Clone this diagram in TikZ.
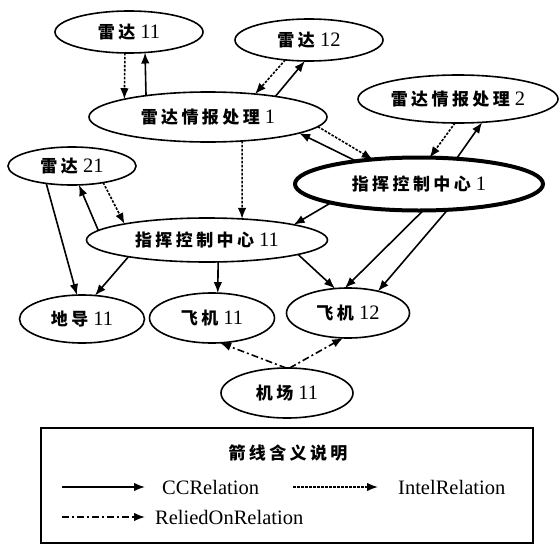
\documentclass[tikz,border=0pt]{standalone}
\usepackage{fontspec}
\setmainfont{Liberation Serif}
\newfontfamily\cjk[LetterSpace=20]{Noto Sans CJK SC}
\usetikzlibrary{shapes.geometric,arrows.meta}
\newcommand\zh[1]{{\cjk\bfseries\fontsize{17}{20}\selectfont #1}}
\tikzset{
  ent/.style={ellipse, draw, line width=1.6pt, inner sep=0pt, outer sep=0pt,
    font=\fontsize{20.5}{24}\selectfont},
  tip/.style={-{Latex[length=11pt,width=8.5pt]}},
  ccrel/.style={line width=1.6pt, tip},
  intel/.style={line width=1.6pt, dash pattern=on 2.5pt off 1.5pt, tip},
  relied/.style={line width=1.6pt, dash pattern=on 7pt off 3pt on 2pt off 3pt, tip},
  lbl/.style={anchor=west, inner sep=0pt, font=\fontsize{20.5}{24}\selectfont}
}
\begin{document}
\begin{tikzpicture}[x=1pt,y=-1pt]
\useasboundingbox (0,0) rectangle (559,546);
% nodes
\node[ent, minimum width=148pt, minimum height=42pt] (r11) at (129,32) {\zh{雷达} 11};
\node[ent, minimum width=148pt, minimum height=42pt] (r12) at (309,40) {\zh{雷达} 12};
\node[ent, minimum width=238pt, minimum height=50pt] (p1) at (208,117) {\zh{雷达情报处理} 1};
\node[ent, minimum width=200pt, minimum height=48pt] (p2) at (458,99) {\zh{雷达情报处理} 2};
\node[ent, minimum width=128pt, minimum height=38pt] (r21) at (72,166) {\zh{雷达} 21};
\node[ent, line width=4pt, minimum width=248pt, minimum height=53pt] (c1) at (419,184) {\zh{指挥控制中心} 1};
\node[ent, minimum width=241pt, minimum height=44pt] (c11) at (207,240) {\zh{指挥控制中心} 11};
\node[ent, minimum width=125pt, minimum height=48pt] (d11) at (82,319) {\zh{地导} 11};
\node[ent, minimum width=125pt, minimum height=50pt] (f11) at (212,318) {\zh{飞机} 11};
\node[ent, minimum width=123pt, minimum height=50pt] (f12) at (348,313) {\zh{飞机} 12};
\node[ent, minimum width=132pt, minimum height=50pt] (jc) at (287,393) {\zh{机场} 11};
% connectors
\draw[intel] (r11.-101) -- (p1.168);
\draw[ccrel] (p1.161) -- (r11.-52);
\draw[intel] (r12.-140) -- (p1.26);
\draw[ccrel] (p1.17) -- (r12.-101);
\draw[intel] (p1.-5) -- (c1.152);
\draw[ccrel] (c1.160) -- (p1.-10);
\draw[intel] (p2.-97) -- (c1.68);
\draw[ccrel] (c1.34) -- (p2.-44);
\draw[intel] (p1.-35) -- (c11.31);
\draw[intel] (r21.-28) -- (c11.169);
\draw[ccrel] (c11.175) -- (r21.-70);
\draw[ccrel] (r21.-146) -- (d11.102);
\draw[ccrel] (c11.-168) -- (d11.61);
\draw[ccrel] (c11.-63) -- (f11.77);
\draw[ccrel] (c11.-9) -- (f12.118);
\draw[ccrel] (c1.-81) -- (f12.97);
\draw[ccrel] (c1.-42) -- (f12.36);
\draw[ccrel] (c1.-168) -- (c11.10);
\draw[relied] (jc.92) -- (f11.-72);
\draw[relied] (jc.84) -- (f12.-101);
% legend
\node[draw, line width=1.6pt, minimum width=492pt, minimum height=115pt, inner sep=0pt] (legend) at (287,485.5) {};
\node[inner sep=0pt] (title) at (288,453) {\zh{箭线含义说明}};
\coordinate (la1) at (62,487); \coordinate (lb1) at (145,487);
\coordinate (la2) at (293,487); \coordinate (lb2) at (378,487);
\coordinate (la3) at (62,517); \coordinate (lb3) at (145,517);
\draw[ccrel] (la1) -- (lb1);
\draw[intel] (la2) -- (lb2);
\draw[relied] (la3) -- (lb3);
\node[lbl] (t1) at (162,487) {CCRelation};
\node[lbl] (t2) at (398,487) {IntelRelation};
\node[lbl] (t3) at (155,517) {ReliedOnRelation};
\end{tikzpicture}
\end{document}
